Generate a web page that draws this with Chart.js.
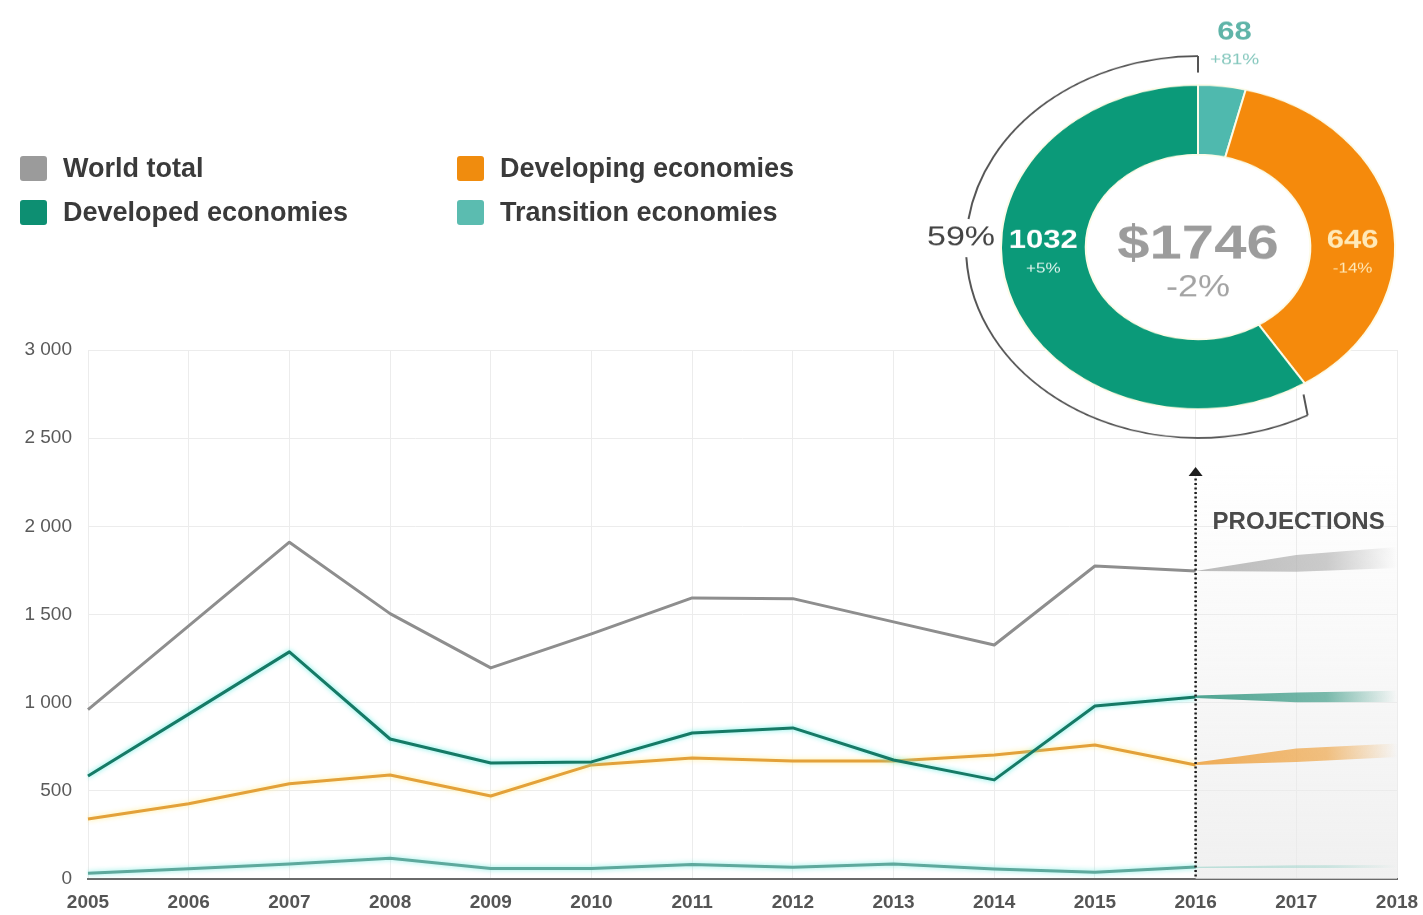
<!doctype html>
<html lang="en">
<head>
<meta charset="utf-8">
<title>FDI flows, 2005-2016 and projections 2017-2018</title>
<style>
  html, body { margin: 0; padding: 0; background: #fff; overflow: hidden; }
  body { width: 1423px; height: 915px; position: relative; font-family: "Liberation Sans", Arial, sans-serif; }
  #lines { position: absolute; left: 0; top: 0; }
  #donutBox { position: absolute; left: 920px; top: -33px; width: 500px; height: 560px; transform: scaleY(0.823); transform-origin: 50% 50%; }
  #legend { position: absolute; left: 20px; top: 146px; display: grid; grid-template-columns: 437px auto; grid-template-rows: 44px 44px; grid-auto-flow: column; }
  #legend div { display: flex; align-items: center; font-size: 27px; font-weight: bold; color: #3a3a3a; white-space: nowrap; }
  #legend i { display: inline-block; width: 27px; height: 25px; border-radius: 3px; margin-right: 16px; }
</style>
</head>
<body>
<canvas id="lines" width="1423" height="915"></canvas>
<div id="legend"></div>
<div id="donutBox"><canvas id="donut" width="500" height="560"></canvas></div>

<script src="https://cdn.jsdelivr.net/npm/chart.js"></script>
<script>
// ---- data (billions of dollars) ----
const years = ['2005', '2006', '2007', '2008', '2009', '2010', '2011', '2012', '2013', '2014', '2015', '2016', '2017', '2018']

const worldTotal = [960, 1435, 1910, 1505, 1197, 1390, 1594, 1590, 1458, 1327, 1775, 1746]
const developed = [584, 935, 1288, 794, 658, 664, 828, 857, 675, 562, 981, 1032]
const developing = [340, 427, 540, 590, 471, 647, 686, 669, 669, 703, 760, 646]
const transition = [32, 58, 85, 118, 60, 60, 82, 66, 85, 57, 38, 68]

// projection bands 2016-2018 (low / high)
const projectionFrom = 11 // index of 2016
const worldProjLow = [1746, 1742, 1764]
const worldProjHigh = [1746, 1838, 1883]
const developedProjLow = [1026, 1002, 1004]
const developedProjHigh = [1040, 1058, 1068]
const developingProjLow = [646, 664, 692]
const developingProjHigh = [660, 740, 768]
const transitionProjLow = [62, 62, 62]
const transitionProjHigh = [70, 78, 80]

// 2016 breakdown
const shareLabels = ['Transition economies', 'Developing economies', 'Developed economies']
const shareValues = [68, 646, 1032]
const shareChange = ['+81%', '-14%', '+5%']
const totalChange = '-2%'

const legendNames = ['World total', 'Developed economies', 'Developing economies', 'Transition economies']
const legendColors = ['#9b9b9b', '#0d8f72', '#f08c0e', '#5bbcb0']

// ---- legend ----
document.getElementById('legend').innerHTML = legendNames
  .map((name, i) => `<div><i style="background:${legendColors[i]}"></i>${name}</div>`)
  .join('')

// ---- line chart ----
const pad = (arr) => Array(projectionFrom).fill(null).concat(arr)

function bandFill(rgb, alpha) {
  return (context) => {
    const chart = context.chart
    const x = chart.scales.x
    if (!chart.chartArea || !x) return `rgba(${rgb},${alpha})`
    const x0 = x.getPixelForValue(projectionFrom)
    const x1 = x.getPixelForValue(years.length - 1)
    const g = chart.ctx.createLinearGradient(x0, 0, x1, 0)
    g.addColorStop(0, `rgba(${rgb},${alpha})`)
    g.addColorStop(0.65, `rgba(${rgb},${alpha * 0.75})`)
    g.addColorStop(1, `rgba(${rgb},0)`)
    return g
  }
}

const glow = {
  id: 'glow',
  beforeDatasetDraw(chart, args) {
    const ds = chart.data.datasets[args.index]
    chart.ctx.save()
    if (ds.glow) {
      chart.ctx.shadowColor = ds.glow
      chart.ctx.shadowBlur = 5
    }
  },
  afterDatasetDraw(chart) {
    chart.ctx.restore()
  }
}

const projections = {
  id: 'projections',
  beforeDatasetsDraw(chart) {
    const { ctx, chartArea, scales: { x, y } } = chart
    const x0 = x.getPixelForValue(projectionFrom)
    const x1 = x.getPixelForValue(years.length - 1)
    const top = y.getPixelForValue(2350)
    const g = ctx.createLinearGradient(0, top, 0, chartArea.bottom)
    g.addColorStop(0, 'rgba(234,234,234,0)')
    g.addColorStop(1, 'rgba(234,234,234,0.7)')
    ctx.save()
    ctx.fillStyle = g
    ctx.fillRect(x0, top, x1 - x0, chartArea.bottom - top)
    ctx.restore()
  },
  afterDatasetsDraw(chart) {
    const { ctx, chartArea, scales: { x, y } } = chart
    const x0 = x.getPixelForValue(projectionFrom)
    const top = y.getPixelForValue(2320)
    ctx.save()
    ctx.strokeStyle = '#1e1e1e'
    ctx.lineWidth = 2.5
    ctx.setLineDash([2, 2.5])
    ctx.beginPath()
    ctx.moveTo(x0, top + 4)
    ctx.lineTo(x0, chartArea.bottom)
    ctx.stroke()
    ctx.setLineDash([])
    ctx.fillStyle = '#1e1e1e'
    ctx.beginPath()
    ctx.moveTo(x0 - 7, top + 6)
    ctx.lineTo(x0 + 7, top + 6)
    ctx.lineTo(x0, top - 3)
    ctx.closePath()
    ctx.fill()
    ctx.font = 'bold 24px "Liberation Sans", Arial, sans-serif'
    ctx.fillStyle = '#4a4a4a'
    ctx.textAlign = 'left'
    ctx.textBaseline = 'middle'
    ctx.fillText('PROJECTIONS', x0 + 17, y.getPixelForValue(2020))
    ctx.restore()
  }
}

const band = (data, rgb, alpha, fill) => ({
  data: pad(data),
  borderWidth: 0,
  pointRadius: 0,
  backgroundColor: bandFill(rgb, alpha),
  fill: fill,
})

const line = (label, data, color, glowColor) => ({
  label,
  data,
  borderColor: color,
  borderWidth: 3,
  pointRadius: 0,
  tension: 0,
  borderJoinStyle: 'round',
  glow: glowColor,
  fill: false,
})

new Chart(document.getElementById('lines'), {
  type: 'line',
  data: {
    labels: years,
    datasets: [
      line('World total', worldTotal, '#8e8e8e'),
      line('Developed economies', developed, '#167a66', 'rgba(90,235,225,0.9)'),
      line('Developing economies', developing, '#e3a13a', 'rgba(255,235,140,0.9)'),
      line('Transition economies', transition, '#5ea99d', 'rgba(120,235,225,0.9)'),
      band(worldProjLow, '175,175,175', 0.85, false),
      band(worldProjHigh, '175,175,175', 0.85, '-1'),
      band(developedProjLow, '50,150,128', 0.85, false),
      band(developedProjHigh, '50,150,128', 0.85, '-1'),
      band(developingProjLow, '238,160,60', 0.85, false),
      band(developingProjHigh, '238,160,60', 0.85, '-1'),
      band(transitionProjLow, '150,210,200', 0.6, false),
      band(transitionProjHigh, '150,210,200', 0.6, '-1'),
    ]
  },
  options: {
    responsive: false,
    animation: false,
    layout: { padding: { top: 350, right: 26, bottom: 0, left: 0 } },
    plugins: { legend: { display: false }, tooltip: { enabled: false } },
    scales: {
      x: {
        offset: false,
        grid: { color: '#ececec', lineWidth: 1, drawTicks: false },
        border: { color: '#6a6a6a', width: 2 },
        ticks: {
          padding: 12,
          color: '#555',
          maxRotation: 0,
          autoSkip: false,
          font: { family: '"Liberation Sans", Arial, sans-serif', size: 19, weight: 'bold' }
        },
        afterFit(scale) {
          scale.height = 36
          scale.paddingLeft = 0
          scale.paddingRight = 0
        }
      },
      y: {
        min: 0,
        max: 3000,
        grid: { color: '#ececec', lineWidth: 1, drawTicks: false },
        border: { display: false },
        ticks: {
          stepSize: 500,
          padding: 16,
          color: '#5a5a5a',
          font: { family: '"Liberation Sans", Arial, sans-serif', size: 19 },
          callback: (v) => String(v).replace(/\B(?=(\d{3})+(?!\d))/g, ' ')
        },
        afterFit(scale) { scale.width = 88 }
      }
    }
  },
  plugins: [glow, projections]
})

// ---- doughnut ----
const donutText = {
  id: 'donutText',
  afterDraw(chart) {
    const { ctx } = chart
    const arcs = chart.getDatasetMeta(0).data
    const cx = arcs[0].x
    const cy = arcs[0].y
    const outer = arcs[0].outerRadius
    const inner = arcs[0].innerRadius
    const mid = (outer + inner) / 2
    const total = shareValues.reduce((a, b) => a + b, 0)
    const font = (w, s) => `${w} ${s}px "Liberation Sans", Arial, sans-serif`

    ctx.save()
    ctx.textAlign = 'center'
    ctx.textBaseline = 'middle'

    // centre total
    ctx.fillStyle = '#9c9c9c'
    ctx.font = font('bold', 58)
    ctx.fillText('$' + total, cx, cy - 2)
    ctx.fillStyle = '#a3a3a3'
    ctx.font = font('normal', 36)
    ctx.fillText(totalChange, cx, cy + 50)

    // developed (left of ring)
    ctx.fillStyle = '#ffffff'
    ctx.font = font('bold', 31)
    ctx.fillText(String(shareValues[2]), cx - mid, cy - 8)
    ctx.fillStyle = '#dff5ee'
    ctx.font = font('normal', 17)
    ctx.fillText(shareChange[2], cx - mid, cy + 26)

    // developing (right of ring)
    ctx.fillStyle = '#ffe9b8'
    ctx.font = font('bold', 31)
    ctx.fillText(String(shareValues[1]), cx + mid, cy - 8)
    ctx.font = font('normal', 17)
    ctx.fillText(shareChange[1], cx + mid, cy + 26)

    // transition (outside, above)
    const a0 = (arcs[0].startAngle + arcs[0].endAngle) / 2
    const tx = cx + Math.cos(a0) * 300
    ctx.fillStyle = '#5fb4a8'
    ctx.font = font('bold', 31)
    ctx.fillText(String(shareValues[0]), tx, cy - 261)
    ctx.fillStyle = '#86c8be'
    ctx.font = font('normal', 19)
    ctx.fillText(shareChange[0], tx, cy - 227)

    // bracket around the developed share
    const R = outer + 35
    const start = arcs[2].startAngle + 0.08
    const end = arcs[2].endAngle
    const gapMid = Math.PI + 0.047
    ctx.strokeStyle = '#555'
    ctx.lineWidth = 2
    ctx.beginPath()
    ctx.arc(cx, cy, R, start, gapMid - 0.1)
    ctx.stroke()
    ctx.beginPath()
    ctx.arc(cx, cy, R, gapMid + 0.1, end)
    ctx.stroke()
    ctx.beginPath()
    ctx.moveTo(cx + Math.cos(start) * R, cy + Math.sin(start) * R)
    ctx.lineTo(cx + Math.cos(start - 0.04) * (R - 24), cy + Math.sin(start - 0.04) * (R - 24))
    ctx.moveTo(cx + Math.cos(end) * R, cy + Math.sin(end) * R)
    ctx.lineTo(cx + Math.cos(end) * (R - 20), cy + Math.sin(end) * (R - 20))
    ctx.stroke()

    ctx.fillStyle = '#444'
    ctx.font = font('normal', 34)
    ctx.fillText(Math.round(shareValues[2] / total * 100) + '%', cx - R - 5, cy - 11)
    ctx.restore()
  }
}

new Chart(document.getElementById('donut'), {
  type: 'doughnut',
  data: {
    labels: shareLabels,
    datasets: [{
      data: shareValues,
      backgroundColor: ['#4fb9ae', '#f58a0c', '#0b9a79'],
      borderColor: '#fdfbe8',
      borderWidth: 2,
    }]
  },
  options: {
    responsive: false,
    animation: false,
    cutout: '57%',
    layout: { padding: { left: 80, right: 24, top: 82, bottom: 82 } },
    plugins: { legend: { display: false }, tooltip: { enabled: false } }
  },
  plugins: [donutText]
})
</script>
</body>
</html>
